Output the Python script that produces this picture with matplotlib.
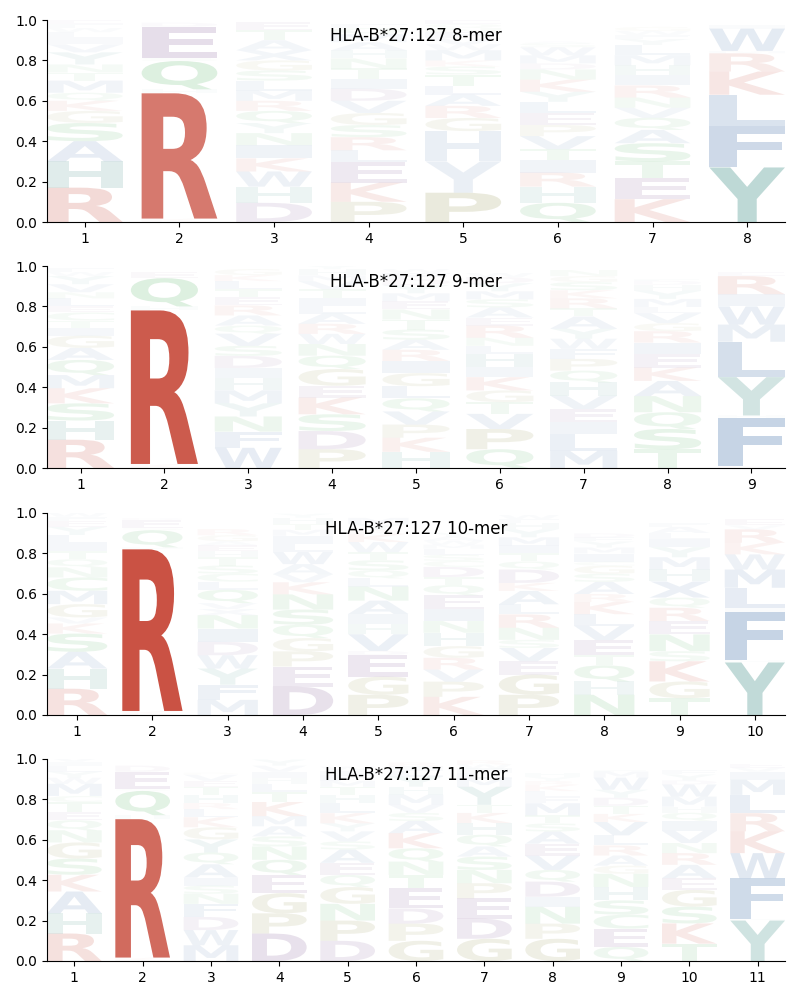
import numpy as np
import matplotlib
matplotlib.use("Agg")
import matplotlib.pyplot as plt
from matplotlib.textpath import TextPath
from matplotlib.patches import PathPatch
from matplotlib.font_manager import FontProperties
from matplotlib.transforms import Affine2D

# === Données : (acide aminé, fréquence) du bas vers le haut ===
mer8 = [
    [("R", .17), ("H", .13), ("A", .10), ("S", .09), ("G", .06), ("K", .05), ("Q", .04), ("M", .06),
     ("T", .04), ("N", .04), ("Y", .06), ("V", .04), ("I", .03), ("L", .03), ("W", .02), ("F", .02), ("E", .02)],
    [("K", .017), ("R", .62), ("H", .02), ("Q", .14), ("S", .015), ("E", .155), ("D", .02)],
    [("D", .095), ("H", .08), ("W", .075), ("K", .065), ("I", .065), ("N", .06), ("Y", .05), ("Q", .06),
     ("R", .05), ("M", .05), ("L", .05), ("S", .05), ("G", .05), ("X", .05), ("A", .05), ("T", .05), ("E", .04)],
    [("P", .10), ("K", .095), ("E", .10), ("L", .06), ("R", .065), ("S", .06), ("G", .06), ("V", .06),
     ("D", .06), ("I", .05), ("T", .05), ("N", .05), ("H", .04), ("A", .04), ("M", .04), ("Q", .03), ("F", .02)],
    [("P", .145), ("Y", .155), ("H", .15), ("G", .065), ("R", .06), ("A", .055), ("L", .045), ("T", .055),
     ("S", .04), ("K", .03), ("M", .05), ("W", .03), ("V", .03), ("F", .03), ("N", .02), ("Q", .02), ("E", .02)],
    [("Q", .095), ("H", .08), ("R", .07), ("I", .06), ("T", .055), ("V", .065), ("P", .055), ("E", .06),
     ("L", .055), ("Y", .05), ("K", .06), ("N", .05), ("D", .03), ("M", .04), ("W", .04), ("S", .02), ("A", .01)],
    [("K", .113), ("E", .104), ("T", .083), ("S", .09), ("A", .066), ("Q", .06), ("V", .05), ("N", .05),
     ("R", .06), ("I", .05), ("H", .05), ("M", .05), ("L", .05), ("Y", .03), ("F", .02), ("W", .02), ("G", .02)],
    [("Y", .27), ("F", .205), ("L", .155), ("K", .115), ("R", .09), ("M", .012), ("W", .11), ("I", .02)],
]

mer9 = [
    [("R", .14), ("H", .095), ("S", .085), ("K", .075), ("M", .065), ("Q", .075), ("A", .06), ("G", .06),
     ("I", .04), ("T", .035), ("C", .04), ("E", .03), ("L", .04), ("N", .03), ("V", .04), ("Y", .04), ("W", .02), ("F", .02)],
    [("K", .02), ("R", .76), ("H", .02), ("Q", .14), ("E", .03)],
    [("W", .10), ("F", .08), ("N", .075), ("Y", .065), ("M", .065), ("H", .06), ("I", .05), ("D", .06),
     ("S", .05), ("V", .06), ("Q", .04), ("A", .05), ("R", .05), ("E", .04), ("T", .04), ("L", .04), ("K", .03), ("G", .03)],
    [("P", .093), ("D", .09), ("S", .083), ("K", .083), ("E", .058), ("G", .083), ("Q", .066), ("N", .058),
     ("W", .05), ("R", .05), ("A", .05), ("L", .04), ("I", .04), ("T", .04), ("V", .04), ("M", .03), ("H", .03), ("Y", .02)],
    [("H", .08), ("K", .07), ("P", .065), ("V", .065), ("Q", .065), ("L", .06), ("G", .065), ("I", .06),
     ("R", .055), ("A", .05), ("S", .05), ("T", .05), ("N", .05), ("E", .04), ("M", .04), ("Y", .04), ("D", .03), ("F", .03), ("W", .02)],
    [("Q", .093), ("P", .10), ("V", .075), ("T", .058), ("G", .058), ("K", .066), ("I", .05), ("H", .065),
     ("L", .04), ("N", .04), ("R", .06), ("E", .04), ("A", .05), ("S", .04), ("M", .04), ("Y", .04), ("D", .03), ("W", .02)],
    [("M", .085), ("L", .083), ("I", .058), ("E", .066), ("V", .066), ("H", .066), ("Q", .058), ("P", .058),
     ("F", .05), ("W", .05), ("Y", .05), ("A", .06), ("T", .04), ("R", .05), ("K", .04), ("S", .04), ("G", .03), ("N", .03)],
    [("T", .093), ("S", .10), ("Q", .083), ("N", .08), ("A", .075), ("K", .066), ("E", .066), ("I", .058),
     ("R", .056), ("G", .04), ("V", .05), ("L", .03), ("M", .04), ("Y", .04), ("H", .03), ("D", .02), ("F", .01)],
    [("K", .01), ("F", .24), ("H", .01), ("Y", .19), ("L", .175), ("M", .085), ("W", .09), ("I", .06), ("R", .09), ("E", .02)],
]

mer10 = [
    [("R", .13), ("H", .10), ("A", .083), ("S", .09), ("K", .05), ("V", .03), ("G", .066), ("M", .066),
     ("C", .066), ("N", .05), ("Q", .04), ("T", .04), ("I", .04), ("L", .04), ("Y", .04), ("E", .03), ("F", .02), ("W", .02)],
    [("K", .02), ("R", .80), ("H", .01), ("Q", .085), ("S", .01), ("E", .04), ("D", .01)],
    [("M", .075), ("F", .075), ("Y", .08), ("W", .066), ("D", .066), ("I", .066), ("N", .066), ("X", .03),
     ("V", .03), ("Q", .066), ("L", .04), ("C", .04), ("S", .04), ("T", .04), ("H", .03), ("E", .03), ("A", .02), ("G", .03), ("R", .03)],
    [("D", .14), ("E", .10), ("P", .075), ("G", .066), ("Q", .066), ("S", .075), ("N", .075), ("K", .06),
     ("V", .04), ("A", .05), ("W", .06), ("L", .04), ("I", .04), ("M", .03), ("T", .03), ("H", .03), ("Y", .02)],
    [("P", .10), ("G", .09), ("E", .107), ("D", .02), ("V", .083), ("H", .05), ("I", .05), ("A", .066),
     ("N", .07), ("L", .04), ("Q", .04), ("S", .05), ("T", .04), ("W", .05), ("K", .04), ("R", .02), ("Y", .03), ("M", .03)],
    [("K", .09), ("P", .075), ("V", .06), ("R", .058), ("G", .058), ("H", .066), ("N", .058), ("I", .058),
     ("E", .07), ("Q", .05), ("T", .04), ("D", .05), ("C", .03), ("S", .03), ("L", .03), ("M", .02), ("W", .02), ("A", .02), ("Y", .02)],
    [("P", .10), ("G", .10), ("E", .066), ("V", .066), ("S", .04), ("N", .06), ("R", .066), ("L", .05),
     ("A", .066), ("K", .04), ("D", .066), ("Q", .04), ("T", .04), ("I", .04), ("M", .04), ("Y", .04), ("H", .03), ("F", .02), ("W", .02)],
    [("N", .10), ("H", .066), ("Q", .08), ("T", .05), ("E", .075), ("V", .07), ("L", .058), ("K", .06),
     ("R", .04), ("A", .06), ("S", .04), ("G", .04), ("C", .02), ("I", .04), ("M", .03), ("Y", .03), ("F", .02), ("D", .02)],
    [("T", .083), ("G", .083), ("K", .10), ("S", .05), ("N", .083), ("E", .066), ("R", .066), ("Q", .05),
     ("X", .08), ("H", .06), ("M", .06), ("Y", .05), ("I", .04), ("L", .03), ("A", .03), ("F", .02)],
    [("Y", .26), ("H", .01), ("F", .24), ("I", .02), ("L", .10), ("M", .09), ("W", .075), ("K", .058),
     ("R", .066), ("V", .02), ("E", .03)],
]

mer11 = [
    [("R", .136), ("H", .10), ("A", .108), ("K", .083), ("S", .08), ("G", .08), ("N", .06), ("Q", .05),
     ("E", .04), ("T", .05), ("C", .03), ("M", .06), ("W", .03), ("Y", .03), ("L", .03), ("I", .02), ("V", .02)],
    [("K", .017), ("R", .685), ("H", .02), ("Q", .12), ("S", .01), ("E", .085), ("D", .03)],
    [("M", .078), ("W", .075), ("D", .065), ("F", .065), ("N", .05), ("S", .04), ("I", .04), ("A", .066),
     ("Q", .058), ("Y", .065), ("G", .06), ("K", .05), ("L", .04), ("R", .03), ("H", .04), ("T", .04), ("E", .03), ("V", .03), ("P", .01)],
    [("D", .136), ("P", .10), ("G", .10), ("E", .09), ("Q", .075), ("N", .066), ("S", .05), ("A", .05),
     ("M", .05), ("K", .07), ("T", .05), ("L", .04), ("H", .03), ("I", .03), ("V", .03), ("Y", .03)],
    [("D", .10), ("P", .10), ("N", .083), ("G", .083), ("Q", .06), ("E", .06), ("A", .066), ("S", .04),
     ("V", .05), ("Y", .04), ("K", .05), ("L", .05), ("H", .04), ("T", .04), ("M", .03), ("F", .03), ("I", .02), ("W", .02)],
    [("G", .10), ("P", .085), ("D", .075), ("E", .10), ("T", .066), ("N", .066), ("Q", .066), ("K", .075),
     ("A", .06), ("S", .04), ("V", .04), ("M", .05), ("H", .04), ("Y", .05), ("L", .03), ("I", .02), ("R", .02)],
    [("G", .11), ("D", .10), ("E", .10), ("P", .075), ("N", .066), ("S", .066), ("A", .05), ("Q", .058),
     ("H", .058), ("K", .05), ("T", .04), ("Y", .09), ("M", .04), ("L", .03), ("I", .02), ("W", .02), ("R", .02)],
    [("G", .11), ("P", .075), ("N", .083), ("I", .05), ("D", .075), ("Q", .058), ("V", .07), ("E", .06),
     ("A", .06), ("S", .04), ("T", .04), ("M", .06), ("F", .03), ("L", .03), ("K", .03), ("R", .02), ("Y", .02), ("H", .02)],
    [("Q", .07), ("E", .09), ("C", .07), ("S", .07), ("H", .066), ("N", .066), ("G", .04), ("A", .05),
     ("R", .05), ("L", .05), ("V", .066), ("K", .04), ("T", .04), ("D", .04), ("Y", .04), ("W", .06), ("M", .03), ("F", .01)],
    [("T", .086), ("K", .10), ("S", .083), ("G", .083), ("E", .058), ("A", .066), ("R", .058), ("N", .05),
     ("V", .06), ("I", .05), ("Q", .04), ("H", .03), ("M", .05), ("W", .06), ("D", .02), ("Y", .03), ("F", .02)],
    [("Y", .20), ("H", .01), ("F", .20), ("W", .124), ("K", .108), ("R", .09), ("L", .09), ("M", .075),
     ("I", .04), ("V", .02), ("E", .02)],
]

panels = [(mer8, "HLA-B*27:127 8-mer"), (mer9, "HLA-B*27:127 9-mer"),
          (mer10, "HLA-B*27:127 10-mer"), (mer11, "HLA-B*27:127 11-mer")]

# couleurs par groupe chimique
groups = {
    "#c84b3c": "RK",
    "#3a8c83": "YH",
    "#3a69a5": "FLWMAVIX",
    "#784d8d": "ED",
    "#3aa64a": "QNSTC",
    "#8a8a3c": "GP",
}
colors = {aa: c for c, aas in groups.items() for aa in aas}

# lettres plus pâles que leur hauteur ne le laisse croire (panneau, position, lettre)
fade = {(0, 4, "Y"): ("#3a69a5", 0.10), (0, 4, "H"): ("#3a69a5", 0.10)}

fp = FontProperties(family="DejaVu Sans", weight="bold")


def draw_letter(ax, c, x, y0, h, color, alpha, w=0.8):
    tp = TextPath((0, 0), c, size=1, prop=fp)
    ext = tp.get_extents()
    tr = (Affine2D().translate(-ext.x0, -ext.y0)
          .scale(w / ext.width, h / ext.height)
          .translate(x - w / 2, y0))
    path = tr.transform_path(tp)
    ax.add_patch(PathPatch(path, facecolor=color, edgecolor="none", alpha=alpha))


fig = plt.figure(figsize=(8, 10), dpi=100)
bottoms = [0.778, 0.532, 0.285, 0.039]

for p, ((data, title), b) in enumerate(zip(panels, bottoms)):
    ax = fig.add_axes([0.05875, b, 0.9225, 0.202])
    n = len(data)
    for i, col in enumerate(data):
        y = 0.0
        for aa, h in col:
            color, alpha = fade.get((p, i, aa), (colors[aa], min(1.0, 1.2 * h)))
            draw_letter(ax, aa, i + 1, y, h, color, alpha)
            y += h
    ax.set_xlim(0.6, n + 0.4)
    ax.set_ylim(0, 1)
    ax.set_xticks(range(1, n + 1))
    ax.set_yticks([0, 0.2, 0.4, 0.6, 0.8, 1.0])
    ax.spines["top"].set_visible(False)
    ax.spines["right"].set_visible(False)
    ax.text(0.5, 0.92, title, transform=ax.transAxes, ha="center", va="center", fontsize=12)

fig.savefig("out.png", dpi=100)
